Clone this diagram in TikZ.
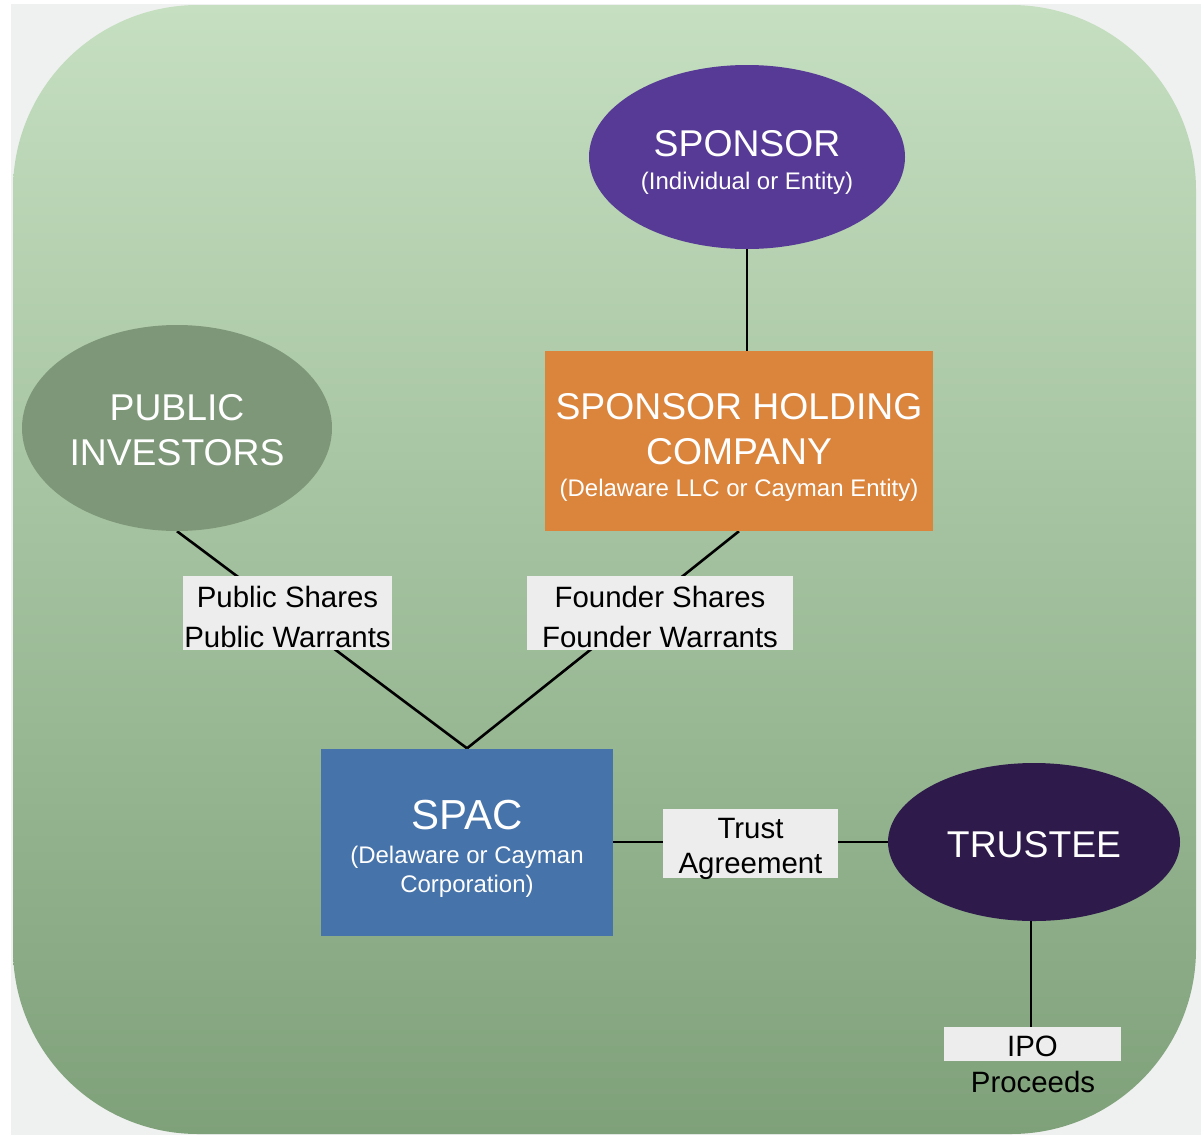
\documentclass[tikz,border=0pt]{standalone}
\usepackage{fontspec}
\setmainfont{Liberation Sans}
\usetikzlibrary{shapes.geometric}
\definecolor{bggray}{HTML}{EFF1F0}
\definecolor{gtop}{HTML}{C5DFC0}
\definecolor{gbot}{HTML}{7FA17A}
\definecolor{sponsorc}{HTML}{563A96}
\definecolor{holdc}{HTML}{DB843C}
\definecolor{pubc}{HTML}{7D9778}
\definecolor{spacc}{HTML}{4673A9}
\definecolor{trustc}{HTML}{2E1A4B}
\definecolor{labc}{HTML}{EDEDED}
\pgfdeclarelayer{bg}
\pgfdeclarelayer{lines}
\pgfsetlayers{bg,lines,main}
\newcommand{\bigtxt}{\fontsize{37.3}{45}\selectfont}
\newcommand{\smalltxt}{\fontsize{24}{29}\selectfont}
\newcommand{\topstrut}[1]{\rule{0pt}{#1}}
\begin{document}
\begin{tikzpicture}[x=1pt,y=-1pt,
  entity/.style={ellipse,inner sep=0pt,text=white,align=center},
  boxent/.style={rectangle,inner sep=0pt,text=white,align=center},
  labtxt/.style={inner sep=0pt,text=black,align=center,font=\fontsize{29.4}{40}\selectfont},
  labbox/.style={fill=labc},
  conn/.style={draw=black,line width=2.6pt}
]
\useasboundingbox (0,0) rectangle (1201,1135);
\begin{pgfonlayer}{bg}
\fill[white] (0,0) rectangle (1201,1135);
\fill[bggray] (11,4) rectangle (1201,1135);
\shade[top color=gtop,bottom color=gbot,rounded corners=185pt] (13,5) rectangle (1196,1134);
\end{pgfonlayer}

\node[entity,fill=sponsorc,minimum width=316pt,minimum height=184pt,
      font=\fontsize{37.3}{33}\selectfont] (sponsor) at (747,157)
  {\topstrut{37.6pt}SPONSOR\\\smalltxt (Individual or Entity)};
\node[boxent,fill=holdc,minimum width=388pt,minimum height=180pt,font=\bigtxt] (holding) at (739,441)
  {\topstrut{38.6pt}SPONSOR HOLDING\\COMPANY\\[-13pt]\smalltxt (Delaware LLC or Cayman Entity)};
\node[entity,fill=pubc,minimum width=310pt,minimum height=206pt,font=\bigtxt] (public) at (177,428)
  {\topstrut{30.6pt}PUBLIC\\INVESTORS};
\node[boxent,fill=spacc,minimum width=292pt,minimum height=187pt,
      font=\fontsize{42}{29}\selectfont] (spac) at (467,842)
  {\topstrut{43pt}SPAC\\[5pt]\smalltxt (Delaware or Cayman\\\smalltxt Corporation)};
\node[entity,fill=trustc,minimum width=292pt,minimum height=158pt,font=\bigtxt] (trustee) at (1034,842)
  {\topstrut{31.5pt}TRUSTEE};

\node[labtxt] (pubshares) at (287.5,617) {Public Shares\\Public Warrants};
\node[labtxt] (fshares) at (660,617) {Founder Shares\\Founder Warrants};
\node[labtxt,font=\fontsize{29.4}{35}\selectfont] (trust) at (750.5,849) {Trust\\Agreement};
\node[labtxt] (ipo) at (1032.5,1046) {IPO};
\node[labtxt] (proceeds) at (1033,1082) {Proceeds};

\begin{pgfonlayer}{lines}
\draw[conn] (sponsor.south) -- (sponsor.south |- holding.north);
\draw[conn] (public.south) -- (spac.north);
\draw[conn] (holding.south) -- (spac.north);
\draw[conn] (spac.east) -- (trustee.west);
\draw[conn] ([xshift=-3pt]trustee.south) -- ([xshift=-3pt]trustee.south |- 0,1027);
\fill[labbox] (183,576) rectangle (392,650);
\fill[labbox] (527,576) rectangle (793,650);
\fill[labbox] (663,809) rectangle (838,878);
\fill[labbox] (944,1027) rectangle (1121,1061);
\end{pgfonlayer}
\end{tikzpicture}
\end{document}
